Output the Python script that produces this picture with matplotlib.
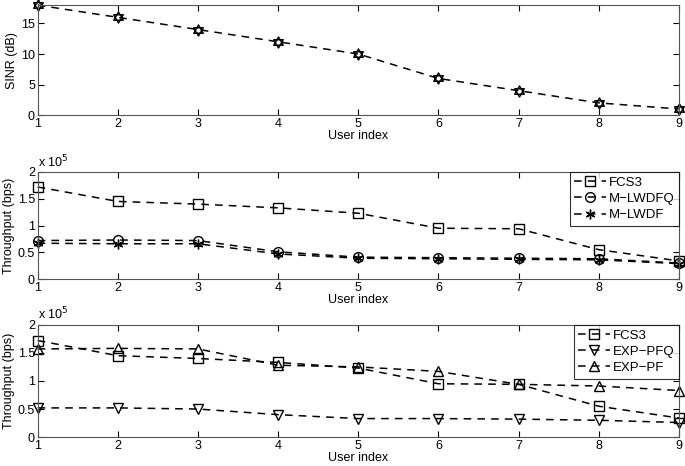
import matplotlib
matplotlib.use("Agg")
import matplotlib.pyplot as plt
from matplotlib.path import Path
from matplotlib.ticker import FuncFormatter

plt.rcParams['font.family'] = ['Liberation Sans', 'DejaVu Sans']
plt.rcParams['font.size'] = 9

users = [1, 2, 3, 4, 5, 6, 7, 8, 9]
sinr = [18, 16, 14, 12, 10, 6, 4, 2, 1]

fcs3 = [172000, 145000, 140000, 133000, 123000, 95000, 94000, 55000, 34000]
m_lwdfq = [72000, 73000, 72000, 51000, 41000, 40000, 39000, 38000, 30000]
m_lwdf = [67000, 66000, 66000, 47000, 39000, 38000, 37000, 36000, 29000]
exp_pfq = [52000, 52000, 50000, 40000, 33000, 33000, 32000, 30000, 26000]
exp_pf = [157000, 158000, 157000, 128000, 125000, 117000, 94000, 91000, 83000]

# hexagram marker (two triangles around the centroid)
h = 0.866
hexagram = Path([(0, 1), (-h, -0.5), (h, -0.5), (0, 1),
                 (0, -1), (-h, 0.5), (h, 0.5), (0, -1)],
                [Path.MOVETO, Path.LINETO, Path.LINETO, Path.CLOSEPOLY,
                 Path.MOVETO, Path.LINETO, Path.LINETO, Path.CLOSEPOLY])

style = dict(color='black', ls=(0, (5, 4)), lw=1.1, mfc='none', mec='black',
             mew=1.0, ms=7, clip_on=False)

fig = plt.figure(figsize=(6.85, 4.66), dpi=100)
ax1 = fig.add_axes([0.055, 0.753, 0.936, 0.236])
ax2 = fig.add_axes([0.055, 0.401, 0.936, 0.230])
ax3 = fig.add_axes([0.055, 0.062, 0.936, 0.241])

ax1.plot(users, sinr, marker=hexagram, **dict(style, ms=8))
ax1.set_ylim(0, 18)
ax1.set_yticks([0, 5, 10, 15])
ax1.set_ylabel('SINR (dB)')

ax2.plot(users, fcs3, marker='s', label='FCS3', **style)
ax2.plot(users, m_lwdfq, marker='o', label='M\u2212LWDFQ', **style)
ax2.plot(users, m_lwdf, marker=(6, 2, 0), label='M\u2212LWDF', **style)

ax3.plot(users, fcs3, marker='s', label='FCS3', **style)
ax3.plot(users, exp_pfq, marker='v', label='EXP\u2212PFQ', **style)
ax3.plot(users, exp_pf, marker='^', label='EXP\u2212PF', **style)

fmt = FuncFormatter(lambda v, p: '%g' % (v / 1e5))
for ax in (ax2, ax3):
    ax.set_ylim(0, 200000)
    ax.set_yticks([0, 50000, 100000, 150000, 200000])
    ax.yaxis.set_major_formatter(fmt)
    ax.set_ylabel('Throughput (bps)')
    ax.text(0.0, 1.02, 'x 10$^5$', transform=ax.transAxes, ha='left',
            va='bottom', fontsize=9)
    leg = ax.legend(loc='upper right', borderaxespad=0, fancybox=False,
                    edgecolor='black', handlelength=2.4, fontsize=9.5,
                    labelspacing=0.3, borderpad=0.35, handletextpad=0.2)
    leg.get_frame().set_linewidth(0.8)
    leg.set_zorder(5)

for ax in (ax1, ax2, ax3):
    ax.set_xlim(1, 9)
    ax.set_xticks(users)
    ax.set_xlabel('User index', labelpad=0)
    ax.tick_params(direction='in', top=True, right=True, length=4, pad=2)
    ax.yaxis.labelpad = 2
    for s in ax.spines.values():
        s.set_color('#555555')
        s.set_linewidth(0.8)

fig.savefig('out.png', dpi=100)
